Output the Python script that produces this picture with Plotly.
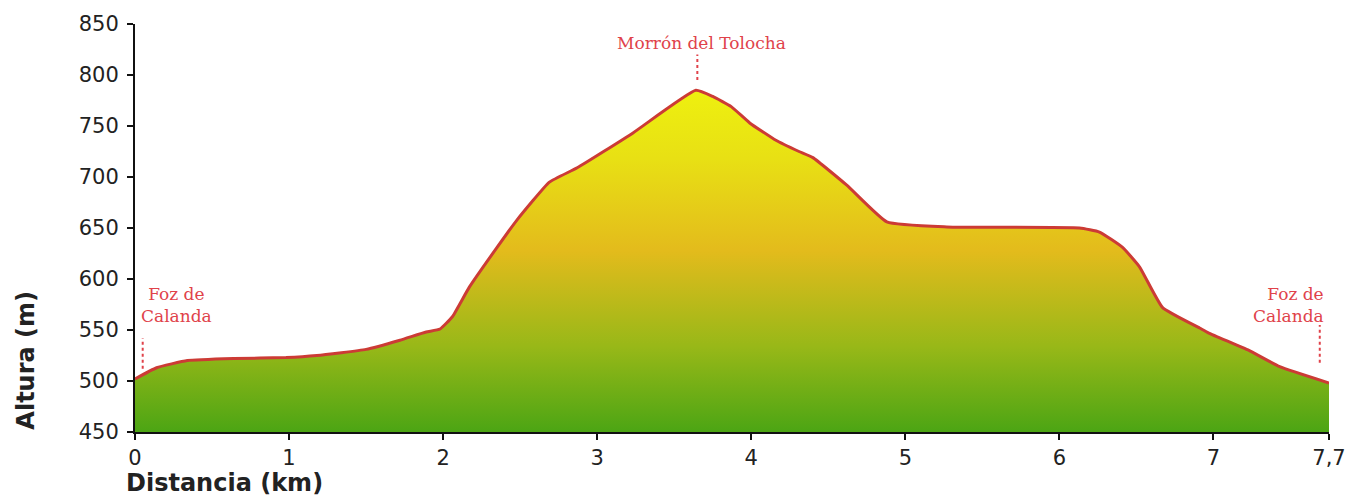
import plotly.graph_objects as go

# Profile data (km, m)
distance_km = [0.0, 0.14, 0.34, 0.64, 0.98, 1.18, 1.5, 1.72, 1.89, 1.98, 2.06, 2.17,
               2.35, 2.48, 2.69, 2.87, 3.23, 3.64, 3.75, 3.87, 3.99, 4.16, 4.31, 4.40,
               4.62, 4.88, 5.27, 6.13, 6.26, 6.41, 6.52, 6.67, 6.91, 6.97, 7.23,
               7.43, 7.75]
altitude_m = [502, 513, 520, 522, 523, 525, 531, 540, 548, 551, 563, 592,
              631, 658, 695, 709, 743, 785, 779, 769, 753, 736, 725, 719,
              692, 656, 651, 650, 646, 631, 612, 572, 552, 547, 530,
              514, 498]

x_tick_vals = [0, 1, 2, 3, 4, 5, 6, 7, 7.75]
x_tick_text = ["0", "1", "2", "3", "4", "5", "6", "7", "7,7"]
y_tick_vals = [450, 500, 550, 600, 650, 700, 750, 800, 850]

landmark_names = ["Foz de<br>Calanda", "Morrón del Tolocha", "Foz de<br>Calanda"]
landmark_x = [0.05, 3.65, 7.69]
landmark_line_bottom = [512, 795, 518]
landmark_line_top = [542, 820, 555]

RED = "#e0424a"

fig = go.Figure()
fig.add_trace(go.Scatter(
    x=distance_km, y=altitude_m, mode="lines",
    line=dict(color="#cc3b35", width=3, shape="spline", smoothing=0.4),
    fill="tozeroy",
    fillgradient=dict(
        type="vertical",
        start=450, stop=785,
        colorscale=[[0.0, "#4ca514"], [0.25, "#98b818"], [0.53, "#e3bb1c"],
                    [0.8, "#e8e014"], [1.0, "#eef00f"]],
    ),
    hoverinfo="skip", showlegend=False,
))

for xv, yb, yt in zip(landmark_x, landmark_line_bottom, landmark_line_top):
    fig.add_shape(type="line", x0=xv, x1=xv, y0=yb, y1=yt, xref="x", yref="y",
                  line=dict(color=RED, width=2, dash="dot"))

ann_font = dict(family="DejaVu Serif, Liberation Serif, serif", size=17, color=RED)
fig.add_annotation(x=0.27, y=552, xref="x", yref="y", text=landmark_names[0],
                   showarrow=False, font=ann_font, align="center", yanchor="bottom")
fig.add_annotation(x=3.68, y=820, xref="x", yref="y", text=landmark_names[1],
                   showarrow=False, font=ann_font, align="center", yanchor="bottom")
fig.add_annotation(x=7.73, y=552, xref="x", yref="y", text=landmark_names[2],
                   showarrow=False, font=ann_font, align="right", xanchor="right",
                   yanchor="bottom")

title_font = dict(family="DejaVu Sans, Verdana, sans-serif", size=24, color="#222222")
fig.add_annotation(x=-0.009, y=-0.085, xref="paper", yref="paper", text="<b>Distancia (km)</b>",
                   showarrow=False, font=title_font, xanchor="left", yanchor="top")
fig.add_annotation(x=-0.092, y=0.0, xref="paper", yref="paper", text="<b>Altura (m)</b>",
                   showarrow=False, font=title_font, textangle=-90, xanchor="center",
                   yanchor="bottom")

axis_common = dict(showgrid=False, zeroline=False, showline=True, linecolor="#111111",
                   linewidth=2, ticks="outside", ticklen=6, tickwidth=2, tickcolor="#111111",
                   automargin=False,
                   tickfont=dict(family="DejaVu Sans, Verdana, sans-serif", size=21,
                                 color="#222222"))
fig.update_xaxes(range=[0, 7.75], tickvals=x_tick_vals, ticktext=x_tick_text, **axis_common)
fig.update_yaxes(range=[450, 850], tickvals=y_tick_vals, ticklabelstandoff=4, **axis_common)

fig.update_layout(
    width=1348, height=497, autosize=False,
    margin=dict(l=135, r=19, t=24, b=65),
    plot_bgcolor="white", paper_bgcolor="white",
)

fig.write_html(
    "out.html",
    config={"responsive": False, "displayModeBar": False},
    post_script="document.body.style.margin='0';document.body.style.overflow='hidden';",
)
